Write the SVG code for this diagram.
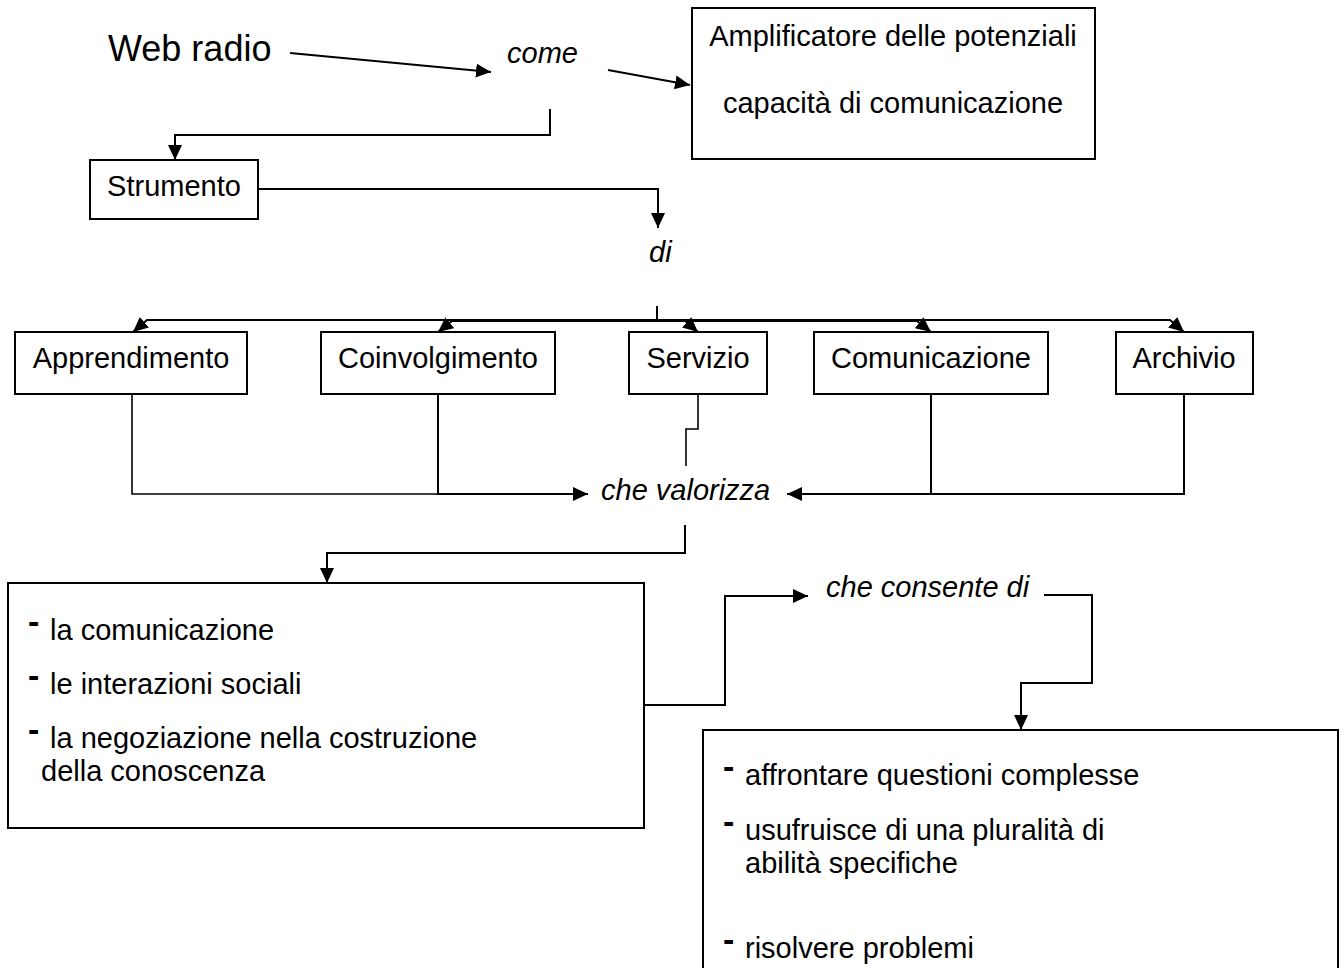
<svg xmlns="http://www.w3.org/2000/svg" width="1344" height="968" viewBox="0 0 1344 968">
<style>
text{font-family:"Liberation Sans",Arial,sans-serif;font-size:29px;fill:#000}
.it{font-style:italic}
.big{font-size:36px}
.mid{text-anchor:middle}
.box{fill:#fff;stroke:#000;stroke-width:2}
.c{fill:none;stroke:#000;stroke-width:2}
.t{fill:none;stroke:#000;stroke-width:1.6}
.dash{font-weight:bold;font-size:34px}
</style>
<defs>
<marker id="ah" markerUnits="userSpaceOnUse" markerWidth="16" markerHeight="14" refX="15" refY="7" orient="auto">
<path d="M0,0 L15,7 L0,14 z" fill="#000"/>
</marker>
</defs>
<rect width="1344" height="968" fill="#fff"/>

<g id="connectors">
<path class="c" d="M290,53 L491,72" marker-end="url(#ah)"/>
<path class="c" d="M608,70 L690,85" marker-end="url(#ah)"/>
<path class="c" d="M550,109 V135 H175 V160" marker-end="url(#ah)"/>
<path class="c" d="M258,189 H658 V228" marker-end="url(#ah)"/>
<path class="c" d="M657,306 V320"/>
<path class="c" d="M657,320 H147 L133,332" marker-end="url(#ah)"/>
<path class="c" d="M657,321 H452 L438,332" marker-end="url(#ah)"/>
<path class="c" d="M657,320 H684 L698,332" marker-end="url(#ah)"/>
<path class="c" d="M657,321 H917 L931,332" marker-end="url(#ah)"/>
<path class="c" d="M657,320 H1170 L1184,332" marker-end="url(#ah)"/>
<path class="t" d="M132,394 V494 H438"/>
<path class="c" d="M438,394 V494 H588" marker-end="url(#ah)"/>
<path class="t" d="M698,394 V429 H686 V466"/>
<path class="c" d="M931,394 V494"/>
<path class="c" d="M1184,394 V494 H787" marker-end="url(#ah)"/>
<path class="c" d="M685,525 V553 H327 V583" marker-end="url(#ah)"/>
<path class="c" d="M644,705 H725 V596 H808" marker-end="url(#ah)"/>
<path class="c" d="M1044,595 H1092 V683 H1021 V730" marker-end="url(#ah)"/>
</g>

<g id="web-radio"><text class="big" x="108" y="61">Web radio</text></g>
<g id="come"><text class="it" x="507" y="63">come</text></g>
<g id="amplificatore">
<rect class="box" x="692" y="8" width="403" height="151"/>
<text class="mid" x="893" y="46">Amplificatore delle potenziali</text>
<text class="mid" x="893" y="113">capacità di comunicazione</text>
</g>
<g id="strumento">
<rect class="box" x="90" y="160" width="168" height="59"/>
<text class="mid" x="174" y="196">Strumento</text>
</g>
<g id="di"><text class="it" x="649" y="262">di</text></g>
<g id="apprendimento">
<rect class="box" x="15" y="332" width="232" height="62"/>
<text class="mid" x="131" y="368">Apprendimento</text>
</g>
<g id="coinvolgimento">
<rect class="box" x="321" y="332" width="234" height="62"/>
<text class="mid" x="438" y="368">Coinvolgimento</text>
</g>
<g id="servizio">
<rect class="box" x="629" y="332" width="138" height="62"/>
<text class="mid" x="698" y="368">Servizio</text>
</g>
<g id="comunicazione">
<rect class="box" x="814" y="332" width="234" height="62"/>
<text class="mid" x="931" y="368">Comunicazione</text>
</g>
<g id="archivio">
<rect class="box" x="1116" y="332" width="137" height="62"/>
<text class="mid" x="1184" y="368">Archivio</text>
</g>
<g id="che-valorizza"><text class="it" x="601" y="500">che valorizza</text></g>
<g id="box-valorizza">
<rect class="box" x="8" y="583" width="636" height="245"/>
<text class="dash" x="28" y="633">-</text>
<text x="50" y="640">la comunicazione</text>
<text class="dash" x="28" y="687">-</text>
<text x="50" y="694">le interazioni sociali</text>
<text class="dash" x="28" y="741">-</text>
<text x="50" y="748">la negoziazione nella costruzione</text>
<text x="41" y="781">della conoscenza</text>
</g>
<g id="che-consente"><text class="it" x="826" y="597">che consente di</text></g>
<g id="box-consente">
<rect class="box" x="703" y="730" width="635" height="260"/>
<text class="dash" x="723" y="778">-</text>
<text x="745" y="785">affrontare questioni complesse</text>
<text class="dash" x="723" y="833">-</text>
<text x="745" y="840">usufruisce di una pluralità di</text>
<text x="745" y="873">abilità specifiche</text>
<text class="dash" x="723" y="951">-</text>
<text x="745" y="958">risolvere problemi</text>
</g>
</svg>
